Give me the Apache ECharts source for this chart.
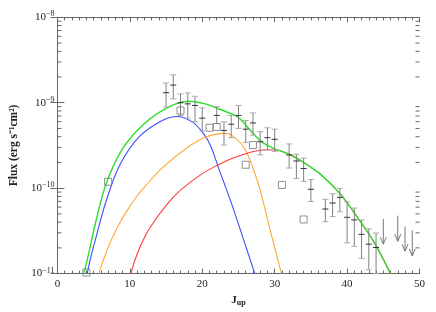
<!DOCTYPE html>
<html><head><meta charset="utf-8">
<script src="https://cdn.jsdelivr.net/npm/echarts@6/dist/echarts.min.js"></script>
<style>html,body{margin:0;padding:0;background:#fff}#c{width:436px;height:312px}</style>
</head><body><div id="c"></div>
<script>
// ---- data ----
const xTicks = [0, 10, 20, 30, 40, 50];
const yTicks = [1e-11, 1e-10, 1e-9, 1e-8];
const yMinorTicks = [2e-11,3e-11,4e-11,5e-11,6e-11,7e-11,8e-11,9e-11,
                     2e-10,3e-10,4e-10,5e-10,6e-10,7e-10,8e-10,9e-10,
                     2e-9,3e-9,4e-9,5e-9,6e-9,7e-9,8e-9,9e-9];

// detections with error bars
const errJ   = [15, 16, 17, 18, 19, 20, 22, 23, 24, 25, 26, 27, 28, 29, 30, 32, 33, 34, 35, 37, 38, 39, 40, 41, 42, 43, 44];
const errVal = [1.31e-9,1.61e-9,1.0e-9,9.7e-10,9.3e-10,6.6e-10,7.1e-10,4.74e-10,5.6e-10,7.1e-10,4.9e-10,5.8e-10,3.5e-10,3.9e-10,3.73e-10,2.45e-10,2.08e-10,1.70e-10,9.7e-11,5.7e-11,6.7e-11,7.8e-11,4.56e-11,4.25e-11,2.88e-11,2.21e-11,2.02e-11];
const errLo  = [8.9e-10,1.11e-9,7.1e-10,6.6e-10,6.0e-10,4.65e-10,5.7e-10,3.2e-10,3.9e-10,5.0e-10,3.44e-10,4.18e-10,2.45e-10,2.8e-10,2.69e-10,1.72e-10,1.30e-10,1.2e-10,6.98e-11,4.05e-11,4.65e-11,5.3e-11,2.29e-11,2.09e-11,1.51e-11,1.11e-11,1.0e-11];
const errHi  = [1.70e-9,2.12e-9,1.27e-9,1.30e-9,1.19e-9,8.7e-10,9.0e-10,5.97e-10,7.1e-10,9.3e-10,6.2e-10,7.6e-10,4.58e-10,5.09e-10,4.9e-10,3.29e-10,2.5e-10,2.25e-10,1.26e-10,7.4e-11,8.6e-11,9.95e-11,6.93e-11,5.85e-11,4.25e-11,3.34e-11,2.98e-11];

// upper limits (arrow top, arrow tip)
const ulJ   = [45, 47, 48, 49];
const ulTop = [4.36e-11, 4.77e-11, 3.56e-11, 3.2e-11];
const ulTip = [2.21e-11, 2.39e-11, 1.83e-11, 1.61e-11];

// open squares
const sqJ   = [4, 7, 17, 21, 22, 26, 27, 31, 34];
const sqVal = [1.03e-11, 1.19e-10, 8.1e-10, 5.1e-10, 5.2e-10, 1.88e-10, 3.2e-10, 1.09e-10, 4.3e-11];

// model curves
const greenJ = [3.66,4.21,5.34,6.71,8.77,11.29,14.48,18.14,20.41,22.25,24.52,25.44,26.81,28.18,30.0,32.3,34.11,36.39,39.13,41.42,43.7,45.99];
const greenF = [1e-11,1.57e-11,4.18e-11,1.11e-10,2.69e-10,5.0e-10,8.1e-10,1.04e-9,9.7e-10,8.5e-10,7.1e-10,6.2e-10,4.58e-10,3.5e-10,2.88e-10,2.44e-10,1.97e-10,1.44e-10,8.4e-11,4.56e-11,2.35e-11,1.0e-11];
const blueJ  = [4.11,4.62,5.34,6.71,8.55,11.29,14.48,16.53,18.6,19.97,21.1,22.25,24.07,25.89,27.26];
const blueF  = [1e-11,1.57e-11,2.68e-11,6.98e-11,1.82e-10,4.0e-10,6.2e-10,6.9e-10,5.97e-10,4.58e-10,3.2e-10,1.73e-10,6.5e-11,2.24e-11,1e-11];
const orangeJ = [5.71,6.67,7.63,8.73,9.92,11.05,12.19,14.48,17.63,20.41,22.97,24.07,25.9,27.7,29.1,30.47,30.96];
const orangeF = [1e-11,1.71e-11,2.68e-11,4.1e-11,5.96e-11,8.2e-11,1.07e-10,1.73e-10,2.86e-10,3.94e-10,4.38e-10,4.18e-10,2.86e-10,1.16e-10,4.0e-11,1.42e-11,1e-11];
const redJ = [10.14,10.92,12.19,13.38,14.48,15.85,17.23,19.96,22.01,24.07,27.26,30.0,32.3,34.11,36.39,39.13,41.42,43.7,45.99];
const redF = [1e-11,1.62e-11,2.83e-11,4.1e-11,5.5e-11,7.57e-11,9.86e-11,1.47e-10,1.84e-10,2.22e-10,2.71e-10,2.82e-10,2.42e-10,1.97e-10,1.44e-10,8.4e-11,4.56e-11,2.35e-11,1.0e-11];

// ---- chart ----
const zip = (a, b) => a.map((v, i) => [v, b[i]]);
const FONT = 'Liberation Serif';
const AX = '#666';
const chart = echarts.init(document.getElementById('c'), null, {renderer: 'canvas'});

function yLabel(v) {
  const e = Math.round(Math.log10(v));
  return '10{s|' + (e < 0 ? '\u2212' + (-e) : e) + '}';
}

const commonX = {
  type: 'value', min: xTicks[0], max: xTicks[xTicks.length - 1], interval: 10,
  axisLine: {show: true, lineStyle: {color: AX, width: 1}},
  axisTick: {show: true, inside: true, length: 5, lineStyle: {color: AX}},
  minorTick: {show: true, splitNumber: 10, length: 3, lineStyle: {color: AX}},
  splitLine: {show: false}, minorSplitLine: {show: false}
};
const commonY = {
  type: 'log', logBase: 10, min: yTicks[0], max: yTicks[yTicks.length - 1],
  axisLine: {show: true, lineStyle: {color: AX, width: 1}},
  axisTick: {show: true, inside: true, length: 7, lineStyle: {color: AX}},
  minorTick: {show: false},
  splitLine: {show: false}
};

const option = {
  backgroundColor: '#fff',
  animation: false,
  grid: {left: 54, right: 16.5, top: 17.3, bottom: 35, containLabel: false},
  xAxis: [
    Object.assign({}, commonX, {
      position: 'bottom',
      axisLabel: {show: true, color: '#222', fontFamily: FONT, fontSize: 11, margin: 5},
      name: 'J{sub|up}', nameLocation: 'middle', nameGap: 15,
      nameTextStyle: {color: '#222', fontFamily: FONT, fontSize: 11, fontWeight: 'bold',
        rich: {sub: {fontFamily: FONT, fontSize: 8, fontWeight: 'bold', color: '#222', verticalAlign: 'bottom', padding: [6, 0, 0, 0]}}}
    }),
    Object.assign({}, commonX, {position: 'top', axisLabel: {show: false}})
  ],
  yAxis: [
    Object.assign({}, commonY, {
      position: 'left',
      axisLabel: {show: true, color: '#222', fontFamily: FONT, fontSize: 11, margin: 3,
        formatter: yLabel,
        rich: {s: {fontFamily: FONT, fontSize: 8, color: '#222', verticalAlign: 'top', padding: [0, 0, 6, 0]}}},
      name: 'Flux (erg s\u207B\u00B9cm\u00B2)', nameLocation: 'middle', nameGap: 37, nameRotate: 90,
      nameTextStyle: {color: '#222', fontFamily: FONT, fontSize: 11.5, fontWeight: 'bold'}
    }),
    Object.assign({}, commonY, {position: 'right', axisLabel: {show: false}})
  ],
  series: [
    {
      type: 'custom', name: 'yminor', xAxisIndex: 0, yAxisIndex: 0, silent: true, z: 1,
      data: yMinorTicks.map(v => [v]),
      renderItem(params, api) {
        const v = api.value(0);
        const l = api.coord([xTicks[0], v]);
        const r = api.coord([xTicks[xTicks.length - 1], v]);
        return {type: 'group', children: [
          {type: 'line', shape: {x1: l[0], y1: l[1], x2: l[0] + 4, y2: l[1]}, style: {stroke: AX, lineWidth: 1}},
          {type: 'line', shape: {x1: r[0] - 4, y1: r[1], x2: r[0], y2: r[1]}, style: {stroke: AX, lineWidth: 1}}
        ]};
      }
    },
    {type: 'line', data: zip(blueJ, blueF), smooth: 0.35, symbol: 'none', clip: true,
     lineStyle: {color: '#3a4cff', width: 1.1}, z: 3},
    {type: 'line', data: zip(orangeJ, orangeF), smooth: 0.35, symbol: 'none', clip: true,
     lineStyle: {color: '#ffa836', width: 1.1}, z: 3},
    {type: 'line', data: zip(redJ, redF), smooth: 0.35, symbol: 'none', clip: true,
     lineStyle: {color: '#ff3b3b', width: 1.1}, z: 3},
    {type: 'line', data: zip(greenJ, greenF), smooth: 0.35, symbol: 'none', clip: true,
     lineStyle: {color: '#2ee02e', width: 1.4}, z: 4},
    {
      type: 'custom', name: 'errors', z: 5,
      data: errJ.map((j, i) => [j, errVal[i], errLo[i], errHi[i]]),
      renderItem(params, api) {
        const j = api.value(0);
        const c = api.coord([j, api.value(1)]);
        const lo = api.coord([j, api.value(2)]);
        const hi = api.coord([j, api.value(3)]);
        const w = 3;
        return {type: 'group', children: [
          {type: 'line', shape: {x1: c[0], y1: lo[1], x2: c[0], y2: hi[1]}, style: {stroke: '#808080', lineWidth: 1}},
          {type: 'line', shape: {x1: c[0] - w, y1: hi[1], x2: c[0] + w, y2: hi[1]}, style: {stroke: '#aaa', lineWidth: 1}},
          {type: 'line', shape: {x1: c[0] - w, y1: lo[1], x2: c[0] + w, y2: lo[1]}, style: {stroke: '#aaa', lineWidth: 1}},
          {type: 'line', shape: {x1: c[0] - w, y1: c[1], x2: c[0] + w, y2: c[1]}, style: {stroke: '#333', lineWidth: 1}}
        ]};
      }
    },
    {
      type: 'custom', name: 'limits', z: 5,
      data: ulJ.map((j, i) => [j, ulTop[i], ulTip[i]]),
      renderItem(params, api) {
        const j = api.value(0);
        const t = api.coord([j, api.value(1)]);
        const b = api.coord([j, api.value(2)]);
        return {type: 'group', children: [
          {type: 'line', shape: {x1: t[0], y1: t[1], x2: b[0], y2: b[1]}, style: {stroke: '#777', lineWidth: 1}},
          {type: 'polyline', shape: {points: [[b[0] - 3, b[1] - 7], [b[0], b[1]], [b[0] + 3, b[1] - 7]]}, style: {stroke: '#777', lineWidth: 1, fill: 'none'}}
        ]};
      }
    },
    {type: 'scatter', data: zip(sqJ, sqVal), symbol: 'rect', symbolSize: 7, z: 6,
     itemStyle: {color: 'rgba(255,255,255,0)', borderColor: '#777', borderWidth: 1}}
  ]
};
chart.setOption(option);
</script>
</body></html>
